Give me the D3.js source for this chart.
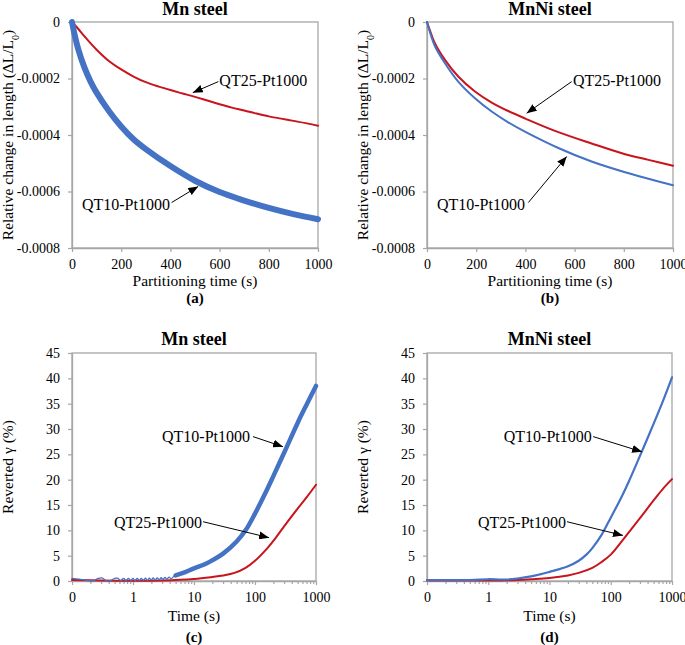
<!DOCTYPE html>
<html><head><meta charset="utf-8">
<script src="https://cdn.jsdelivr.net/npm/d3@7"></script>
<style>
body{margin:0;background:#fff}
svg text{font-family:"Liberation Serif",Tinos,"Times New Roman",Times,"DejaVu Serif",serif !important;fill:#000}
</style>
</head><body>
<svg id="chart" width="685" height="645" font-family="Liberation Serif, serif"></svg>
<script>
// ---------- DATA ----------
// (a) Mn steel, relative change in length vs partitioning time (s)
const mnQT25_t  = [0,25,50,75,100,150,200,250,300,350,400,450,500,550,600,650,700,750,800,850,900,950,1000];
const mnQT25_dL = [0,-0.24e-4,-0.5e-4,-0.75e-4,-0.98e-4,-1.38e-4,-1.68e-4,-1.93e-4,-2.13e-4,-2.28e-4,-2.41e-4,-2.53e-4,-2.65e-4,-2.78e-4,-2.91e-4,-3.03e-4,-3.13e-4,-3.24e-4,-3.34e-4,-3.42e-4,-3.50e-4,-3.58e-4,-3.67e-4];
const mnQT10_t  = [0,10,25,50,75,100,150,200,250,300,400,500,600,700,800,900,1000];
const mnQT10_dL = [0,-0.42e-4,-0.95e-4,-1.6e-4,-2.1e-4,-2.5e-4,-3.15e-4,-3.7e-4,-4.15e-4,-4.5e-4,-5.1e-4,-5.62e-4,-6.02e-4,-6.32e-4,-6.58e-4,-6.8e-4,-6.98e-4];
// (b) MnNi steel
const mnniQT25_t  = [0,10,32,73,127,195,263,330,400,534,669,805,900,1000];
const mnniQT25_dL = [0,-0.25e-4,-0.75e-4,-1.34e-4,-1.93e-4,-2.46e-4,-2.85e-4,-3.15e-4,-3.42e-4,-3.90e-4,-4.30e-4,-4.68e-4,-4.88e-4,-5.09e-4];
const mnniQT10_t  = [0,10,32,73,127,195,263,330,398,534,669,805,900,1000];
const mnniQT10_dL = [0,-0.3e-4,-0.85e-4,-1.46e-4,-2.11e-4,-2.70e-4,-3.17e-4,-3.55e-4,-3.88e-4,-4.46e-4,-4.94e-4,-5.32e-4,-5.55e-4,-5.78e-4];
// (c) Mn steel, reverted austenite (%) vs time (s), log axis
const mnRevQT10early_t = [0.1,0.13,0.17,0.22,0.27,0.31,0.36,0.42,0.5,0.56,0.63,0.7,0.77,0.84,0.92,1.0,1.08,1.17,1.27,1.37,1.48,1.6,1.72,1.85,2.0,2.15,2.3,2.5,2.7,2.9,3.1,3.35,3.6,3.9,4.2,4.6,5.0];
const mnRevQT10early_g = [0.5,0.35,0.15,0.05,0.5,0.6,0.1,0.05,0.5,0.55,0.1,0.5,0.1,0.5,0.1,0.5,0.1,0.5,0.1,0.5,0.15,0.55,0.15,0.55,0.2,0.6,0.2,0.6,0.25,0.65,0.3,0.7,0.35,0.75,0.45,0.85,1.1];
const mnRevQT10_t = [5,7,10,15,20,30,50,70,100,150,200,300,500,700,1000];
const mnRevQT10_g = [1.1,1.7,2.5,3.3,4.1,5.4,7.8,10.0,13.3,17.5,20.7,25.3,31.2,34.8,38.5];
const mnRevQT25_t = [0.1,0.3,1,3,10,20,30,46,70,100,160,200,300,500,700,1000];
const mnRevQT25_g = [0.2,0.1,0.05,0.1,0.4,0.8,1.1,1.6,2.6,4.0,6.5,7.9,10.8,14.3,16.5,19.0];
// (d) MnNi steel
const mnniRevQT10_t = [0.1,0.5,1,1.5,2,3,5,7,10,15,20,30,40,50,70,100,150,200,300,500,700,1000];
const mnniRevQT10_g = [0.2,0.2,0.35,0.3,0.3,0.5,0.9,1.3,1.8,2.4,2.9,4.0,5.2,6.5,9.0,12.5,16.6,19.8,24.7,31.0,35.3,40.2];
const mnniRevQT25_t = [0.1,1,3,5,10,20,30,50,70,100,160,200,300,500,700,1000];
const mnniRevQT25_g = [0.1,0.1,0.2,0.35,0.6,1.1,1.6,2.6,3.7,5.2,8.2,9.7,12.4,15.9,18.1,20.1];

// tick labels
const linTicks = [0,200,400,600,800,1000];
const dlTicks = [0,-0.0002,-0.0004,-0.0006,-0.0008];
const logTicks = [0.1,1,10,100,1000];
const logTickLabels = ["0","1","10","100","1000"];
const revTicks = [0,5,10,15,20,25,30,35,40,45];

// ---------- DRAW ----------
const FONT = '"Liberation Serif", Tinos, "Times New Roman", Times, "DejaVu Serif", serif';
const BLUE = "#4472c4", RED = "#c8141c", GREY = "#a6a6a6";
const svg = d3.select("#chart");
svg.append("defs").append("marker")
  .attr("id","arr").attr("markerUnits","userSpaceOnUse")
  .attr("viewBox","0 0 10 8").attr("refX",10).attr("refY",4)
  .attr("markerWidth",10).attr("markerHeight",8).attr("orient","auto")
  .append("path").attr("d","M0,0L10,4L0,8Z").attr("fill","#000");

const zip = (a,b) => a.slice(0,Math.min(a.length,b.length)).map((v,i)=>[v,b[i]]);

function panel(cfg){
  const g = svg.append("g");
  const x = cfg.log
    ? d3.scaleLog().domain([0.1,1000]).range([cfg.x0,cfg.x1])
    : d3.scaleLinear().domain([0,1000]).range([cfg.x0,cfg.x1]);
  const y = d3.scaleLinear().domain(cfg.ydom).range([cfg.y1,cfg.y0]);

  g.append("rect").attr("x",cfg.x0).attr("y",cfg.y0)
    .attr("width",cfg.x1-cfg.x0).attr("height",cfg.y1-cfg.y0)
    .attr("fill","none").attr("stroke",GREY).attr("stroke-width",1.3);

  const xa = d3.axisBottom(x).tickValues(cfg.xticks).tickSize(4).tickSizeOuter(0).tickPadding(7)
    .tickFormat((d,i)=>cfg.xlabels ? cfg.xlabels[i] : d);
  const gx = g.append("g").attr("transform",`translate(0,${cfg.y1})`).call(xa);
  if(cfg.log){
    const minor=[];
    [0.1,1,10,100].forEach(dd=>{for(let k=2;k<=9;k++) minor.push(dd*k);});
    g.append("g").attr("transform",`translate(0,${cfg.y1})`)
      .call(d3.axisBottom(x).tickValues(minor).tickSize(3).tickSizeOuter(0).tickFormat(""))
      .call(s=>s.select(".domain").remove())
      .selectAll("line").attr("stroke",GREY).attr("stroke-width",1.2);
  }
  const ya = d3.axisLeft(y).tickValues(cfg.yticks).tickSize(4).tickSizeOuter(0).tickPadding(8)
    .tickFormat(cfg.yfmt);
  const gy = g.append("g").attr("transform",`translate(${cfg.x0},0)`).call(ya);
  [gx,gy].forEach(a=>{
    a.attr("font-family",FONT);
    a.select(".domain").attr("stroke",GREY).attr("stroke-width",1.3);
    a.selectAll(".tick line").attr("stroke",GREY).attr("stroke-width",1.2);
    a.selectAll("text").attr("font-family",FONT).attr("font-size",14).attr("fill","#000");
  });

  const line = d3.line().x(d=>x(d[0])).y(d=>y(d[1])).curve(d3.curveCatmullRom.alpha(0.5));
  cfg.series.forEach(s=>{
    g.append("path").datum(zip(s.t,s.v)).attr("d",line)
      .attr("fill","none").attr("stroke",s.color).attr("stroke-width",s.w)
      .attr("stroke-linejoin","round").attr("stroke-linecap","round");
  });

  cfg.notes.forEach(n=>{
    g.append("line").attr("x1",x(n.ax)).attr("y1",y(n.ay)).attr("x2",x(n.px)).attr("y2",y(n.py))
      .attr("stroke","#000").attr("stroke-width",1).attr("marker-end","url(#arr)");
    g.append("text").attr("x",x(n.tx)).attr("y",y(n.ty)).attr("dy","0.35em")
      .attr("text-anchor",n.anchor).attr("font-family",FONT).attr("font-size",16).text(n.text);
  });

  const cx = (cfg.x0+cfg.x1)/2;
  g.append("text").attr("x",cx).attr("y",cfg.titleY).attr("text-anchor","middle")
    .attr("font-family",FONT).attr("font-size",18).attr("font-weight","bold").text(cfg.title);
  g.append("text").attr("x",cx).attr("y",cfg.xtitleY).attr("text-anchor","middle")
    .attr("font-family",FONT).attr("font-size",15.5).text(cfg.xtitle);
  g.append("text").attr("x",cx).attr("y",cfg.tagY).attr("text-anchor","middle")
    .attr("font-family",FONT).attr("font-size",15).attr("font-weight","bold").text(cfg.tag);
  const yt = g.append("text").attr("transform",`translate(${cfg.ytitleX},${(cfg.y0+cfg.y1)/2}) rotate(-90)`)
    .attr("text-anchor","middle").attr("font-family",FONT).attr("font-size",15.5);
  cfg.ytitle(yt);
}

const dlTitle = t => { t.append("tspan").text("Relative change in length (\u0394L/L");
  t.append("tspan").attr("baseline-shift","sub").attr("font-size",10).text("0");
  t.append("tspan").text(")"); };
const revTitle = t => t.text("Reverted \u03b3 (%)");
const dlFmt = d => d===0 ? "0" : d.toFixed(4);

panel({x0:72,x1:318,y0:22,y1:248,ydom:[-0.0008,0],log:false,
  xticks:linTicks,yticks:dlTicks,yfmt:dlFmt,
  title:"Mn steel",titleY:15,xtitle:"Partitioning time (s)",xtitleY:286,tag:"(a)",tagY:303,
  ytitleX:13,ytitle:dlTitle,
  series:[{t:mnQT25_t,v:mnQT25_dL,color:RED,w:2},{t:mnQT10_t,v:mnQT10_dL,color:BLUE,w:6}],
  notes:[{text:"QT25-Pt1000",anchor:"start",tx:599,ty:-2.05e-4,ax:595,ay:-2.11e-4,px:491,py:-2.5e-4},
         {text:"QT10-Pt1000",anchor:"end",tx:398,ty:-6.47e-4,ax:405,ay:-6.39e-4,px:513,py:-5.82e-4}]});

panel({x0:427,x1:673,y0:22,y1:248,ydom:[-0.0008,0],log:false,
  xticks:linTicks,yticks:dlTicks,yfmt:dlFmt,
  title:"MnNi steel",titleY:15,xtitle:"Partitioning time (s)",xtitleY:286,tag:"(b)",tagY:303,
  ytitleX:368,ytitle:dlTitle,
  series:[{t:mnniQT25_t,v:mnniQT25_dL,color:RED,w:2},{t:mnniQT10_t,v:mnniQT10_dL,color:BLUE,w:2}],
  notes:[{text:"QT25-Pt1000",anchor:"start",tx:593,ty:-2.05e-4,ax:588,ay:-2.11e-4,px:405,py:-3.23e-4},
         {text:"QT10-Pt1000",anchor:"end",tx:398,ty:-6.47e-4,ax:412,ay:-6.39e-4,px:568,py:-4.76e-4}]});

panel({x0:72,x1:316,y0:353,y1:581,ydom:[0,45],log:true,
  xticks:logTicks,xlabels:logTickLabels,yticks:revTicks,yfmt:d=>d,
  title:"Mn steel",titleY:345,xtitle:"Time (s)",xtitleY:621,tag:"(c)",tagY:642,
  ytitleX:13,ytitle:revTitle,
  series:[{t:mnRevQT25_t,v:mnRevQT25_g,color:RED,w:2},
          {t:mnRevQT10early_t,v:mnRevQT10early_g,color:BLUE,w:1.3},
          {t:mnRevQT10_t,v:mnRevQT10_g,color:BLUE,w:4.5}],
  notes:[{text:"QT10-Pt1000",anchor:"end",tx:82.8,ty:28.5,ax:92.7,ay:28.5,px:288,py:26.5},
         {text:"QT25-Pt1000",anchor:"end",tx:13.5,ty:11.5,ax:14.1,ay:11.7,px:170,py:8.55}]});

panel({x0:427,x1:672,y0:353,y1:581,ydom:[0,45],log:true,
  xticks:logTicks,xlabels:logTickLabels,yticks:revTicks,yfmt:d=>d,
  title:"MnNi steel",titleY:345,xtitle:"Time (s)",xtitleY:621,tag:"(d)",tagY:642,
  ytitleX:368,ytitle:revTitle,
  series:[{t:mnniRevQT25_t,v:mnniRevQT25_g,color:RED,w:2},{t:mnniRevQT10_t,v:mnniRevQT10_g,color:BLUE,w:2.2}],
  notes:[{text:"QT10-Pt1000",anchor:"end",tx:48.9,ty:28.5,ax:51.5,ay:28.5,px:324,py:25.5},
         {text:"QT25-Pt1000",anchor:"end",tx:18.6,ty:11.5,ax:19.3,ay:11.7,px:158,py:9.0}]});
</script>
</body></html>
